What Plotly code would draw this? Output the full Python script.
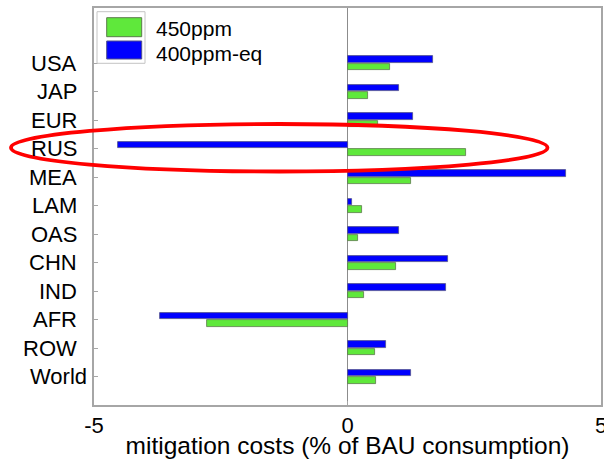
import plotly.graph_objects as go

# Regions (top to bottom) and mitigation costs in % of BAU consumption
regions = ["USA", "JAP", "EUR", "RUS", "MEA", "LAM", "OAS", "CHN", "IND", "AFR", "ROW", "World"]
cost_450ppm = [0.83, 0.41, 0.60, 2.34, 1.26, 0.28, 0.21, 0.95, 0.32, -2.78, 0.55, 0.57]
cost_400ppm_eq = [1.68, 1.01, 1.30, -4.53, 4.30, 0.09, 1.01, 1.99, 1.94, -3.69, 0.76, 1.26]
series_names = ["450ppm", "400ppm-eq"]
x_ticks = [-5, 0, 5]
x_title = "mitigation costs (% of BAU consumption)"

FONT = "Liberation Sans, Arial, sans-serif"
GREEN = "#5fe83b"
BLUE = "#0000ff"
FRAME = "#a6a6a6"

pos = list(range(1, len(regions) + 1))
bar_h = 0.235

fig = go.Figure()
fig.add_trace(go.Bar(
    y=[p - 0.125 for p in pos], x=cost_400ppm_eq, orientation="h", width=bar_h,
    name=series_names[1], marker=dict(color=BLUE, line=dict(color="#50508a", width=0.8)),
    showlegend=False,
))
fig.add_trace(go.Bar(
    y=[p + 0.145 for p in pos], x=cost_450ppm, orientation="h", width=bar_h,
    name=series_names[0], marker=dict(color=GREEN, line=dict(color="#5a7a4a", width=0.8)),
    showlegend=False,
))

# Plot-area geometry in pixels, used to place the legend and highlight in paper units
L, R, T, B, W, H = 94, 3, 8, 54, 604, 459
pw, ph = W - L - R, H - T - B


def px(x):
    return (x - L) / pw


def py(y):
    return (H - B - y) / ph


shapes = [
    # legend box and colour swatches
    dict(type="rect", xref="paper", yref="paper", x0=px(97), x1=px(145), y0=py(63.3), y1=py(11.7),
         line=dict(color="#c4c4c4", width=1), fillcolor="white", layer="above"),
    dict(type="rect", xref="paper", yref="paper", x0=px(106.7), x1=px(141.7), y0=py(36.7), y1=py(17.7),
         line=dict(color="#5a7a4a", width=1), fillcolor=GREEN, layer="above"),
    dict(type="rect", xref="paper", yref="paper", x0=px(106.7), x1=px(141.7), y0=py(59), y1=py(41),
         line=dict(color="#50508a", width=1), fillcolor=BLUE, layer="above"),
    # red ellipse highlighting Russia
    dict(type="circle", xref="paper", yref="paper", x0=px(11), x1=px(547.5), y0=py(171.5), y1=py(124),
         line=dict(color="#ff0000", width=3.8), layer="above"),
]

annotations = [
    dict(xref="paper", yref="paper", x=px(154), y=py(29), xanchor="left", yanchor="middle",
         text=series_names[0], showarrow=False, font=dict(family=FONT, size=21, color="black")),
    dict(xref="paper", yref="paper", x=px(154), y=py(54), xanchor="left", yanchor="middle",
         text=series_names[1], showarrow=False, font=dict(family=FONT, size=21, color="black")),
]
# region labels on the y axis
for p, name in zip(pos, regions):
    annotations.append(dict(
        xref="paper", yref="y", x=0, y=p, xanchor="right", yanchor="middle",
        xshift=-5 if name == "World" else -15,
        text=name, showarrow=False, font=dict(family=FONT, size=22, color="black"),
    ))

fig.update_layout(
    width=W, height=H,
    margin=dict(l=L, r=R, t=T, b=B, pad=0, autoexpand=False),
    paper_bgcolor="white", plot_bgcolor="white",
    barmode="overlay", bargap=0,
    font=dict(family=FONT, size=21, color="black"),
    shapes=shapes, annotations=annotations,
    xaxis=dict(
        range=[-5, 5], tickvals=x_ticks, ticktext=[str(v) for v in x_ticks],
        showgrid=False, zeroline=True, zerolinecolor="#8c8c8c", zerolinewidth=1,
        showline=True, linecolor=FRAME, linewidth=2, mirror=True,
        ticks="inside", ticklen=4, tickcolor=FRAME, ticklabeloverflow="allow",
        automargin=False,
        tickfont=dict(family=FONT, size=22, color="black"),
        title=dict(text=x_title, font=dict(family=FONT, size=24.5, color="black"), standoff=6),
    ),
    yaxis=dict(
        range=[13.0, -0.93], tickvals=pos, showticklabels=False, automargin=False,
        showgrid=False, zeroline=False,
        showline=True, linecolor=FRAME, linewidth=2, mirror=True,
        ticks="inside", ticklen=4, tickcolor=FRAME,
    ),
)

fig.write_html("out.html")
